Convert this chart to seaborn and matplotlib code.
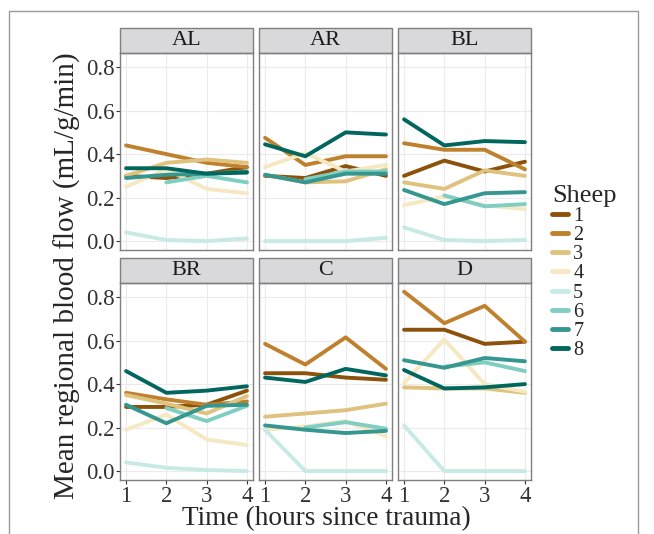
import matplotlib
matplotlib.use("Agg")
import matplotlib.pyplot as plt
from matplotlib.lines import Line2D
from matplotlib.patches import Rectangle
import numpy as np
import pandas as pd
import seaborn as sns

times = [1, 2, 3, 4]
regions = ["AL", "AR", "BL", "BR", "C", "D"]
sheep = ["1", "2", "3", "4", "5", "6", "7", "8"]

al = [[0.30, 0.29, 0.31, 0.34],
      [0.44, 0.40, 0.36, 0.34],
      [0.30, 0.36, 0.375, 0.36],
      [0.25, 0.33, 0.24, 0.22],
      [0.04, 0.005, 0.0, 0.012],
      [None, 0.27, 0.30, 0.27],
      [0.29, 0.305, 0.31, 0.32],
      [0.335, 0.335, 0.31, 0.315]]
ar = [[0.30, 0.29, 0.345, 0.30],
      [0.475, 0.35, 0.39, 0.39],
      [0.305, 0.27, 0.275, 0.33],
      [0.34, 0.405, 0.32, 0.35],
      [0.0, 0.0, 0.0, 0.015],
      [None, 0.285, 0.32, 0.32],
      [0.305, 0.27, 0.31, 0.31],
      [0.445, 0.39, 0.50, 0.49]]
bl = [[0.30, 0.37, 0.32, 0.365],
      [0.45, 0.42, 0.42, 0.33],
      [0.27, 0.24, 0.325, 0.30],
      [0.165, 0.205, 0.165, 0.147],
      [0.063, 0.005, 0.0, 0.005],
      [None, 0.21, 0.16, 0.17],
      [0.235, 0.17, 0.22, 0.225],
      [0.56, 0.44, 0.46, 0.455]]
br = [[0.295, 0.295, 0.305, 0.37],
      [0.36, 0.33, 0.305, 0.32],
      [0.35, 0.31, 0.265, 0.345],
      [0.19, 0.26, 0.145, 0.12],
      [0.04, 0.015, 0.005, 0.0],
      [None, 0.29, 0.23, 0.30],
      [0.305, 0.22, 0.30, 0.305],
      [0.46, 0.36, 0.37, 0.39]]
c = [[0.45, 0.45, 0.43, 0.42],
     [0.585, 0.49, 0.615, 0.47],
     [0.25, 0.265, 0.28, 0.31],
     [0.19, 0.205, 0.23, 0.16],
     [0.19, 0.0, 0.0, 0.0],
     [None, 0.20, 0.225, 0.195],
     [0.21, 0.19, 0.175, 0.185],
     [0.43, 0.41, 0.47, 0.44]]
d = [[0.65, 0.65, 0.585, 0.595],
     [0.825, 0.68, 0.76, 0.595],
     [0.385, 0.38, 0.38, 0.36],
     [0.405, 0.605, 0.40, 0.365],
     [0.21, 0.0, 0.0, 0.0],
     [None, 0.48, 0.50, 0.46],
     [0.51, 0.475, 0.52, 0.505],
     [0.465, 0.38, 0.385, 0.40]]

colors = ["#8C510A", "#BF812D", "#DFC27D", "#F6E8C3",
          "#C7EAE5", "#80CDC1", "#35978F", "#01665E"]

rows = []
for reg, vals in zip(regions, [al, ar, bl, br, c, d]):
    for s, series in zip(sheep, vals):
        for t, v in zip(times, series):
            if v is not None:
                rows.append({"Region": reg, "Sheep": s, "Time": t, "Flow": v})
df = pd.DataFrame(rows)

sns.set_style("white")
plt.rcParams["font.family"] = ["Liberation Serif", "DejaVu Serif"]

g = sns.relplot(data=df, x="Time", y="Flow", hue="Sheep", col="Region",
                col_order=regions, col_wrap=3, kind="line", palette=colors,
                hue_order=sheep, linewidth=2.8, legend=False,
                height=2, aspect=1, facet_kws={"sharex": True, "sharey": True})
fig = g.figure
fig.set_size_inches(6.54, 5.34)

W, H = 654, 534
lefts = [120, 259, 398]
pw, ph = 133, 197
bottoms = [250, 480]
strip_h = 25

for i, (ax, reg) in enumerate(zip(g.axes.flat, regions)):
    r, col = divmod(i, 3)
    ax.set_position([lefts[col] / W, 1 - bottoms[r] / H, pw / W, ph / H])
    ax.set_xlim(0.85, 4.15)
    ax.set_ylim(-0.041, 0.865)
    ax.set_xticks(times)
    ax.set_yticks([0.0, 0.2, 0.4, 0.6, 0.8])
    ax.grid(True, color="#ebebeb", linewidth=0.8)
    ax.set_axisbelow(True)
    for sp in ax.spines.values():
        sp.set_visible(True)
        sp.set_color("#7f7f7f")
        sp.set_linewidth(1.0)
    ax.tick_params(axis="both", length=3, width=0.8, color="#333333",
                   labelsize=16.5, labelcolor="#333333", pad=1,
                   left=(col == 0), bottom=(r == 1),
                   labelleft=(col == 0), labelbottom=(r == 1))
    ax.set_yticklabels(["0.0", "0.2", "0.4", "0.6", "0.8"])
    ax.set_title("")
    ax.set_xlabel("")
    ax.set_ylabel("")
    ax.add_patch(Rectangle((0, 1), 1, strip_h / ph, transform=ax.transAxes,
                           facecolor="#d9d9db", edgecolor="#7f7f7f",
                           linewidth=1.0, clip_on=False))
    ax.text(0.5, 1 + strip_h / ph / 2, reg, transform=ax.transAxes,
            ha="center", va="center", fontsize=16, color="#1a1a1a")

fig.text(326 / W, 1 - 519 / H, "Time (hours since trauma)",
         ha="center", va="center", fontsize=19.7)
fig.text(67 / W, 1 - 276 / H, "Mean regional blood flow (mL/g/min)",
         ha="center", va="center", rotation=90, fontsize=21)

handles = [Line2D([], [], color=cl, linewidth=3.5) for cl in colors]
leg = fig.legend(handles, sheep, title="Sheep", loc="upper left",
                 bbox_to_anchor=(542 / W, 1 - 175 / H), frameon=False,
                 fontsize=14.5, title_fontsize=19, handlelength=0.8,
                 handletextpad=0.25, labelspacing=0.0, borderpad=0)
leg._legend_box.align = "left"

# thin frame around the figure, as in the reference
fig.add_artist(Line2D([9 / W, 9 / W, 638 / W, 638 / W],
                      [0, 1 - 11 / H, 1 - 11 / H, 0],
                      color="#9a9a9a", linewidth=1.0))

fig.savefig("out.png", dpi=100)
